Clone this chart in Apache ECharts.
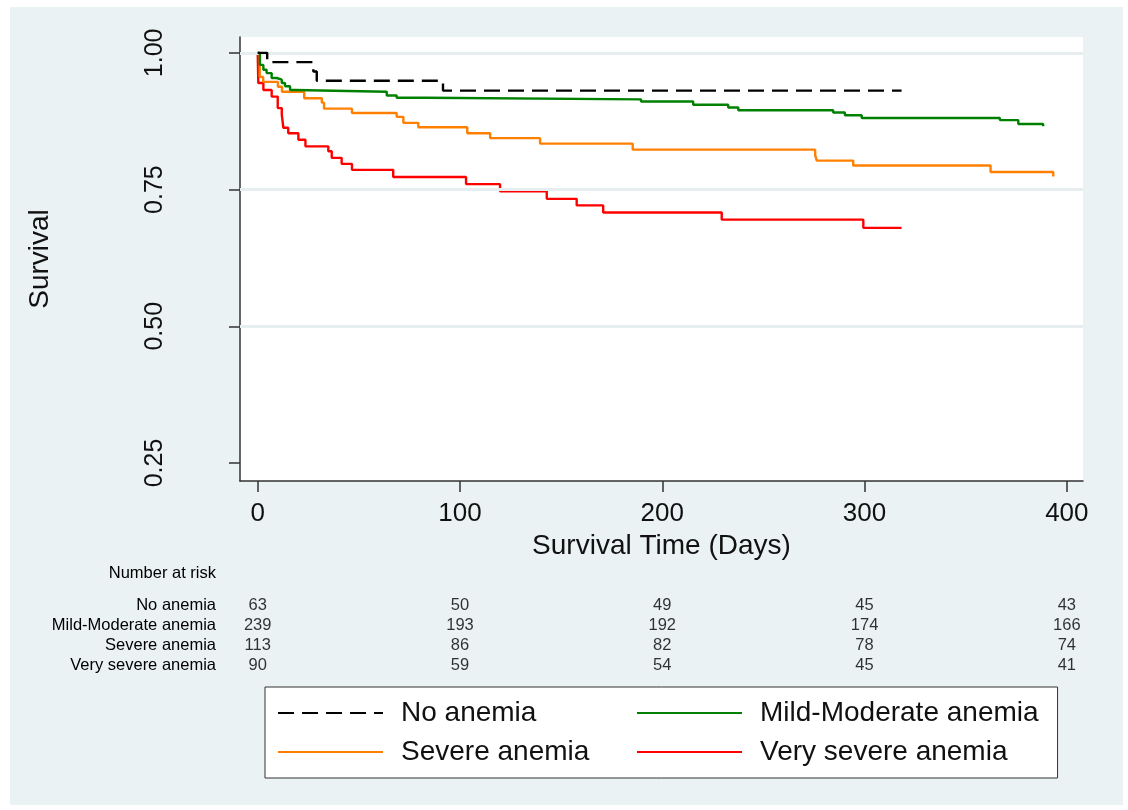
<!DOCTYPE html>
<html><head><meta charset="utf-8">
<script src="https://cdn.jsdelivr.net/npm/echarts@6/dist/echarts.min.js"></script>
<style>
html,body{margin:0;padding:0;background:#fff;}
#panel{position:absolute;left:10px;top:7px;width:1113px;height:798px;background:#eaf2f3;}
#chart{position:absolute;left:0;top:0;width:1128px;height:810px;}
</style></head><body>
<div id="panel"></div><div id="chart"></div>
<script>
// ---- data ----
const groupNames = ['No anemia', 'Mild-Moderate anemia', 'Severe anemia', 'Very severe anemia'];
// Kaplan-Meier steps: [day, survival]
const kmNoAnemia = [[0,1],[4.7,0.983],[27.5,0.966],[29.2,0.949],[91.6,0.931],[318.3,0.931]];
const kmMildModerate = [[0,1],[1.1,0.978],[2.8,0.969],[4.4,0.963],[6.9,0.954],[9.4,0.951],[11.9,0.945],[13.5,0.939],[16,0.932],[18.4,0.929],[63.8,0.922],[68.7,0.918],[83.5,0.915],[189.5,0.911],[215.3,0.905],[232.6,0.900],[237.6,0.895],[284.5,0.891],[290.3,0.886],[298.6,0.881],[366.9,0.877],[376,0.870],[388.3,0.866]];
const kmSevere = [[0,1],[1.0,0.956],[2.7,0.947],[10,0.938],[12,0.929],[23,0.917],[31.7,0.909],[32.8,0.898],[46.6,0.890],[68.7,0.883],[72,0.872],[79.4,0.864],[103.6,0.853],[114.9,0.844],[139.6,0.834],[185.4,0.823],[275.6,0.813],[276.4,0.803],[294.4,0.794],[362.3,0.782],[393.3,0.774]];
const kmVerySevere = [[0,1],[0.3,0.945],[2.8,0.932],[6.9,0.920],[9.9,0.899],[11.9,0.887],[12.7,0.863],[15.1,0.853],[20.1,0.841],[23.6,0.829],[34.9,0.820],[36.6,0.808],[41.5,0.797],[46.6,0.786],[67,0.773],[103,0.760],[119.8,0.747],[142.9,0.733],[157.7,0.721],[170.8,0.708],[229.4,0.695],[299.4,0.680],[318.3,0.680]];

const xTicks = [0, 100, 200, 300, 400];
const yTicks = [0.25, 0.50, 0.75, 1.00];
const gridValues = [0.50, 0.75, 1.00];

const riskTimes = [0, 100, 200, 300, 400];
const riskNoAnemia = [63, 50, 49, 45, 43];
const riskMildModerate = [239, 193, 192, 174, 166];
const riskSevere = [113, 86, 82, 78, 74];
const riskVerySevere = [90, 59, 54, 45, 41];
const riskTitle = 'Number at risk';

// ---- chart ----
const FONT = '"Liberation Sans", Arial, Helvetica, sans-serif';
const TXT = '#111';
const km = [kmNoAnemia, kmMildModerate, kmSevere, kmVerySevere];
const colors = ['#000000', '#008000', '#ff8000', '#ff0000'];
const risk = [riskNoAnemia, riskMildModerate, riskSevere, riskVerySevere];

const series = [];
series.push({
  name: 'grid', type: 'line', xAxisIndex: 0, yAxisIndex: 0, data: [], z: 1, silent: true,
  markLine: { silent: true, symbol: ['none','none'], label: {show:false}, animation:false,
    lineStyle: { color: '#e6eef0', width: 3, type: 'solid' },
    data: gridValues.map(v => ({ yAxis: v })) }
});
groupNames.forEach((n, i) => {
  series.push({
    name: n, type: 'line', step: 'end', xAxisIndex: 0, yAxisIndex: 0,
    data: km[i], symbol: 'none', showSymbol: false, z: 3 + (3 - i),
    lineStyle: { color: colors[i], width: 2.4, type: i === 0 ? [16, 8] : 'solid' },
    itemStyle: { color: colors[i] }
  });
});
groupNames.forEach((n, r) => {
  series.push({
    name: 'risk_' + r, type: 'scatter', xAxisIndex: 1, yAxisIndex: 1,
    data: riskTimes.map((t, k) => [t, n, risk[r][k]]),
    symbolSize: 1, itemStyle: { color: 'rgba(0,0,0,0)' }, silent: true,
    label: { show: true, position: 'inside', formatter: p => String(p.value[2]),
      fontSize: 16.5, fontFamily: FONT, color: '#000', textBorderWidth: 0 }
  });
});

const option = {
  animation: false,
  backgroundColor: 'transparent',
  textStyle: { fontFamily: FONT, color: TXT },
  grid: [
    { left: 240, top: 37, width: 843, height: 444, show: true, backgroundColor: '#ffffff', borderWidth: 0, outerBoundsMode: 'none', containLabel: false },
    { left: 240, top: 595, width: 843, height: 80, show: false, outerBoundsMode: 'none', containLabel: false }
  ],
  xAxis: [
    { type: 'value', gridIndex: 0, min: -8.75, max: 408,
      name: 'Survival Time (Days)', nameLocation: 'middle', nameGap: 46,
      nameTextStyle: { fontSize: 28, fontFamily: FONT, color: TXT },
      axisLine: { show: true, onZero: false, lineStyle: { color: '#333', width: 1.5 } },
      axisTick: { show: true, customValues: xTicks, length: 11, lineStyle: { color: '#333', width: 1.5 } },
      axisLabel: { customValues: xTicks, fontSize: 26, margin: 20, color: TXT, fontFamily: FONT },
      splitLine: { show: false } },
    { type: 'value', gridIndex: 1, min: -8.75, max: 408, show: false }
  ],
  yAxis: [
    { type: 'value', gridIndex: 0, min: 0.217, max: 1.029,
      name: 'Survival', nameLocation: 'middle', nameGap: 186, nameRotate: 90,
      nameTextStyle: { fontSize: 28, fontFamily: FONT, color: TXT },
      axisLine: { show: true, onZero: false, lineStyle: { color: '#333', width: 1.5 } },
      axisTick: { show: true, customValues: yTicks, length: 11, lineStyle: { color: '#333', width: 1.5 } },
      axisLabel: { customValues: yTicks, rotate: 90, fontSize: 25, margin: 72, color: TXT, fontFamily: FONT,
        formatter: v => Number(v).toFixed(2) },
      splitLine: { show: false } },
    { type: 'category', gridIndex: 1, data: groupNames, inverse: true,
      axisLine: { show: false }, axisTick: { show: false }, splitLine: { show: false },
      axisLabel: { interval: 0, fontSize: 16.5, margin: 24, color: '#000', fontFamily: FONT } }
  ],
  legend: {
    data: groupNames, left: 265, top: 687, width: 800, orient: 'horizontal',
    padding: [6.5, 19, 6.5, 12], itemGap: 0, itemWidth: 105, itemHeight: 4,
    backgroundColor: '#ffffff', borderColor: '#333', borderWidth: 1, borderRadius: 0,
    selectedMode: false,
    itemStyle: { color: 'rgba(0,0,0,0)', borderWidth: 0, opacity: 0 },
    textStyle: { fontSize: 28, fontFamily: FONT, color: TXT, lineHeight: 39, width: 235,
      overflow: 'none', padding: [0, 0, 0, 13] }
  },
  graphic: [
    { type: 'text', x: 216, y: 573, silent: true,
      style: { text: riskTitle, align: 'right', verticalAlign: 'middle',
        font: '16.5px ' + FONT, fill: '#000' } }
  ],
  series: series
};

const chart = echarts.init(document.getElementById('chart'), null, { renderer: 'canvas' });
chart.setOption(option);
</script>
</body></html>
